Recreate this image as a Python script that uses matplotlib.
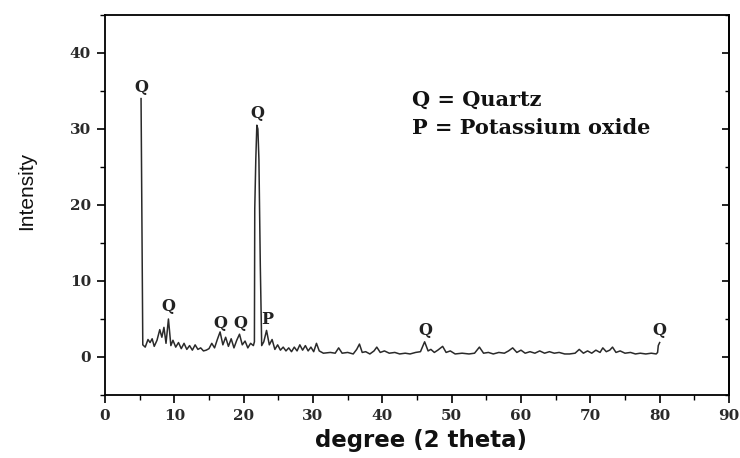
import matplotlib
matplotlib.use("Agg")
import matplotlib.pyplot as plt
from matplotlib.ticker import MultipleLocator

# XRD pattern (2-theta in degrees, intensity)
two_theta = [5.2, 5.35, 5.45, 5.8, 6.2, 6.5, 6.8, 7.1, 7.5, 7.9, 8.2, 8.5, 8.8, 9.15, 9.5,
             9.8, 10.2, 10.6, 11.0, 11.4, 11.8, 12.2, 12.6, 13.0, 13.4, 13.8, 14.2, 14.6,
             15.0, 15.4, 15.8, 16.2, 16.6, 17.0, 17.4, 17.8, 18.2, 18.6, 19.0, 19.4, 19.8,
             20.2, 20.6, 21.0, 21.4, 21.55, 21.6, 21.75, 21.9, 22.05, 22.2, 22.4, 22.6,
             22.9, 23.3, 23.7, 24.1, 24.5, 24.9, 25.3, 25.7, 26.1, 26.5, 26.9, 27.3, 27.7,
             28.1, 28.5, 28.9, 29.3, 29.7, 30.1, 30.5, 30.9, 31.5, 32.5, 33.2, 33.7, 34.2,
             35.0, 35.8, 36.3, 36.7, 37.1, 37.6, 38.2, 38.8, 39.2, 39.7, 40.3, 41.0, 41.8,
             42.5, 43.3, 44.0, 44.8, 45.5, 46.1, 46.6, 47.0, 47.5, 48.0, 48.7, 49.2, 49.8,
             50.5, 51.5, 52.5, 53.3, 54.0, 54.6, 55.3, 56.0, 56.8, 57.6, 58.2, 58.8, 59.4,
             60.0, 60.6, 61.3, 62.0, 62.7, 63.4, 64.1, 64.8, 65.5, 66.3, 67.0, 67.8, 68.4,
             69.0, 69.6, 70.2, 70.8, 71.4, 71.8, 72.3, 72.8, 73.2, 73.7, 74.3, 75.0, 75.8,
             76.5, 77.2, 78.0, 78.8, 79.5, 79.7, 79.8, 80.0]
intensity = [34.0, 15.0, 1.6, 1.3, 2.3, 1.9, 2.4, 1.4, 2.2, 3.6, 2.6, 3.9, 1.8, 5.0, 1.5,
             2.2, 1.3, 1.9, 1.1, 1.8, 1.0, 1.5, 0.9, 1.6, 1.0, 1.2, 0.8, 0.9,
             1.1, 1.8, 1.2, 2.3, 3.3, 1.6, 2.6, 1.4, 2.4, 1.2, 2.2, 3.0, 1.6,
             2.1, 1.2, 1.8, 1.5, 2.0, 19.5, 26.0, 30.5, 30.0, 26.0, 12.0, 1.5,
             2.0, 3.5, 1.6, 2.3, 1.0, 1.6, 0.9, 1.3, 0.8, 1.2, 0.7, 1.3, 0.8,
             1.6, 0.9, 1.5, 0.8, 1.3, 0.7, 1.8, 0.8, 0.5, 0.6, 0.5, 1.2, 0.5,
             0.6, 0.4, 1.0, 1.7, 0.6, 0.7, 0.4, 0.8, 1.3, 0.6, 0.8, 0.5, 0.6,
             0.4, 0.5, 0.4, 0.6, 0.7, 2.0, 0.8, 1.0, 0.6, 0.9, 1.4, 0.6, 0.8,
             0.4, 0.5, 0.4, 0.5, 1.3, 0.5, 0.6, 0.4, 0.6, 0.5, 0.8, 1.2, 0.6,
             0.9, 0.5, 0.7, 0.5, 0.8, 0.5, 0.7, 0.5, 0.6, 0.4, 0.4, 0.5, 1.0,
             0.5, 0.8, 0.5, 0.9, 0.6, 1.2, 0.7, 0.9, 1.3, 0.6, 0.8, 0.5, 0.6,
             0.4, 0.5, 0.4, 0.5, 0.4, 0.6, 1.5, 1.9]

# Phase labels
peak_labels = ["Q", "Q", "Q", "Q", "Q", "P", "Q", "Q"]
peak_x = [5.3, 9.2, 16.7, 19.5, 22.0, 23.4, 46.2, 80.0]
peak_y = [35.5, 6.6, 4.4, 4.4, 32.1, 4.9, 3.5, 3.5]

legend_lines = ["Q = Quartz", "P = Potassium oxide"]

x_ticks = list(range(0, 91, 10))
y_ticks = [0, 10, 20, 30, 40]

fig = plt.figure(figsize=(7.4, 4.58), dpi=100)
ax = fig.add_axes([105 / 740, 1 - 395 / 458, (729 - 105) / 740, (395 - 15) / 458])

ax.plot(two_theta, intensity, color="#2a2a2a", lw=1.1)

ax.set_xlim(0, 90)
ax.set_ylim(-5, 45)
ax.set_xticks(x_ticks)
ax.set_yticks(y_ticks)
ax.xaxis.set_minor_locator(MultipleLocator(5))
ax.yaxis.set_minor_locator(MultipleLocator(5))
ax.tick_params(which="major", direction="out", length=6, width=1.2, pad=4,
               right=False, top=False)
ax.tick_params(which="minor", direction="out", length=3.5, width=1.0, right=False, top=False)

# right-side ticks pointing inward
ax_r = ax.secondary_yaxis("right")
ax_r.set_yticks(y_ticks)
ax_r.yaxis.set_minor_locator(MultipleLocator(5))
ax_r.tick_params(which="major", direction="in", length=5, width=1.2, labelright=False)
ax_r.tick_params(which="minor", direction="in", length=3, width=1.0, labelright=False)

for s in ax.spines.values():
    s.set_linewidth(1.3)
ax_r.spines["right"].set_linewidth(1.3)

for lab in ax.get_xticklabels() + ax.get_yticklabels():
    lab.set_fontfamily("DejaVu Serif")
    lab.set_fontweight("bold")
    lab.set_fontsize(11)
    lab.set_color("#2a2a2a")

for lab, px, py in zip(peak_labels, peak_x, peak_y):
    ax.text(px, py, lab, ha="center", va="center", family="DejaVu Serif",
            weight="bold", size=11.5, color="#222222")

ax.text(0.492, 0.776, legend_lines[0], transform=ax.transAxes, ha="left", va="center",
        family="DejaVu Serif", weight="bold", size=15, color="#111111")
ax.text(0.492, 0.703, legend_lines[1], transform=ax.transAxes, ha="left", va="center",
        family="DejaVu Serif", weight="bold", size=15, color="#111111")

fig.text(27 / 740, 1 - 191 / 458, "Intensity", rotation=90, ha="center", va="center",
         family=["Liberation Sans Narrow", "Liberation Sans"], size=15, color="#111111")
fig.text(421 / 740, 1 - 440 / 458, "degree (2 theta)", ha="center", va="center",
         family="DejaVu Sans", weight="bold", size=16.5, color="#111111")

fig.savefig("out.png", dpi=100)
